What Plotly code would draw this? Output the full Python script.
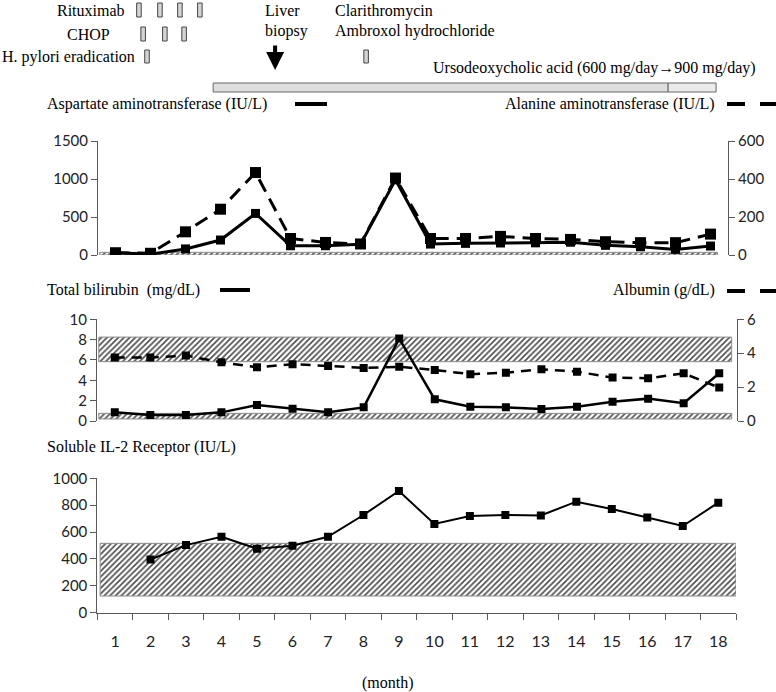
import plotly.graph_objects as go

# ---------------- data ----------------
months = list(range(1, 19))
month_labels = [str(m) for m in months]

ast = [30, 10, 80, 197, 547, 122, 122, 140, 990, 144, 153, 158, 160, 168, 127, 109, 74, 118]
alt = [12, 9, 122, 241, 434, 87, 66, 58, 405, 87, 87, 98, 87, 82, 70, 65, 65, 110]

bilirubin = [0.85, 0.59, 0.59, 0.85, 1.57, 1.21, 0.85, 1.34, 8.1, 2.13, 1.41, 1.34, 1.18, 1.41, 1.9, 2.2, 1.74, 4.69]
albumin = [3.74, 3.74, 3.86, 3.46, 3.17, 3.35, 3.25, 3.13, 3.2, 3.01, 2.76, 2.85, 3.05, 2.91, 2.56, 2.52, 2.81, 1.97]

sil2r = [None, 396, 503, 565, 476, 498, 565, 727, 906, 660, 719, 727, 724, 826, 771, 709, 645, 819]

# normal ranges (hatched bands)
ast_normal = [0, 35]
albumin_normal = [3.5, 4.95]
bilirubin_normal = [0.2, 0.75]
sil2r_normal = [124, 516]

# treatment timeline (in months)
rituximab_months = [1.67, 2.27, 2.84, 3.41]
chop_months = [1.79, 2.41, 2.96]
hpylori_months = [1.9]
clarithro_months = [8.16]
liver_biopsy_month = 5.56
udca_start, udca_switch, udca_end = 3.79, 16.79, 18.16

# axis ranges
ast_range = [0, 1500]
alt_range = [0, 600]
bili_range = [0, 10]
alb_range = [0, 6]
sil_range = [0, 1000]

W, H = 776, 692
def px(x):
    return x / W
def py(y):
    return 1 - y / H

SERIF = "Liberation Serif"
SANS = "Lato"
AXC = "#595959"

fig = go.Figure()

def band(x0, x1, y0, y1, xa, ya):
    fig.add_trace(go.Scatter(
        x=[x0, x1, x1, x0, x0], y=[y0, y0, y1, y1, y0],
        mode="lines", fill="toself", fillcolor="white",
        fillpattern=dict(shape="/", fgcolor="#4a4a4a", bgcolor="white", size=4, solidity=0.4),
        line=dict(color="#8c8c8c", width=1),
        xaxis=xa, yaxis=ya, hoverinfo="skip", showlegend=False))

# ---- top panel ----
band(0.55, 18.2, ast_normal[0], ast_normal[1], "x", "y")
fig.add_trace(go.Scatter(x=months, y=ast, mode="lines+markers", xaxis="x", yaxis="y",
                         line=dict(color="black", width=3),
                         marker=dict(symbol="square", size=9, color="black"),
                         name="Aspartate aminotransferase (IU/L)", showlegend=False))
fig.add_trace(go.Scatter(x=months, y=alt, mode="lines+markers", xaxis="x", yaxis="y2",
                         line=dict(color="black", width=3, dash="14px,8px"),
                         marker=dict(symbol="square", size=11, color="black"),
                         name="Alanine aminotransferase (IU/L)", showlegend=False))

# ---- middle panel ----
ratio = (bili_range[1] - bili_range[0]) / (alb_range[1] - alb_range[0])
band(0.55, 18.35, albumin_normal[0] * ratio, albumin_normal[1] * ratio, "x2", "y3")
band(0.55, 18.35, bilirubin_normal[0], bilirubin_normal[1], "x2", "y3")
fig.add_trace(go.Scatter(x=months, y=bilirubin, mode="lines+markers", xaxis="x2", yaxis="y3",
                         line=dict(color="black", width=2.5),
                         marker=dict(symbol="square", size=8, color="black"),
                         name="Total bilirubin (mg/dL)", showlegend=False))
fig.add_trace(go.Scatter(x=months, y=albumin, mode="lines+markers", xaxis="x2", yaxis="y4",
                         line=dict(color="black", width=2.5, dash="10px,7px"),
                         marker=dict(symbol="square", size=8, color="black"),
                         name="Albumin (g/dL)", showlegend=False))

# ---- bottom panel ----
band(0.58, 18.5, sil2r_normal[0], sil2r_normal[1], "x3", "y5")
fig.add_trace(go.Scatter(x=months, y=sil2r, mode="lines+markers", xaxis="x3", yaxis="y5",
                         line=dict(color="black", width=2),
                         marker=dict(symbol="square", size=8, color="black"),
                         name="Soluble IL-2 Receptor (IU/L)", showlegend=False))

tickfont = dict(family=SANS, size=15, color="#222")
yax_common = dict(showgrid=False, zeroline=False, showline=True, linecolor=AXC, linewidth=1,
                  ticks="outside", ticklen=6, tickcolor=AXC, tickfont=tickfont, automargin=False)
xax_hidden = dict(range=[0.5, 18.5], showgrid=False, zeroline=False, showline=False,
                  showticklabels=False, ticks="", automargin=False)

fig.update_layout(
    template="none",
    width=W, height=H, autosize=False, margin=dict(l=0, r=0, t=0, b=0, pad=0),
    paper_bgcolor="white", plot_bgcolor="white", showlegend=False,
    xaxis=dict(domain=[98 / W, 728 / W], anchor="y", **xax_hidden),
    yaxis=dict(domain=[py(255), py(141)], range=ast_range, tickvals=[0, 500, 1000, 1500], anchor="x", **yax_common),
    yaxis2=dict(overlaying="y", side="right", anchor="x", range=alt_range, tickvals=[0, 200, 400, 600], **yax_common),
    xaxis2=dict(domain=[97 / W, 737 / W], anchor="y3", **xax_hidden),
    yaxis3=dict(domain=[py(421), py(319.3)], range=bili_range, dtick=2, anchor="x2", **yax_common),
    yaxis4=dict(overlaying="y3", side="right", anchor="x2", range=alb_range, dtick=2, **yax_common),
    xaxis3=dict(domain=[97.3 / W, 736 / W], anchor="y5", range=[0.5, 18.5], showgrid=False, zeroline=False,
                showline=True, linecolor=AXC, linewidth=1, tickvals=months, ticktext=month_labels,
                ticks="", tickfont=dict(family=SANS, size=16, color="#222"), ticklabelstandoff=14,
                automargin=False,
                minor=dict(tickvals=[m + 0.5 for m in [0] + months], ticks="outside", ticklen=6, tickcolor=AXC)),
    yaxis5=dict(domain=[py(612.7), py(478.3)], range=sil_range, dtick=200, anchor="x3", **yax_common),
)

shapes = []
annotations = []

def ann(text, x, y, xanchor="left", size=16):
    annotations.append(dict(text=text, x=px(x), y=py(y), xref="paper", yref="paper",
                            xanchor=xanchor, yanchor="middle", showarrow=False,
                            font=dict(family=SERIF, size=size, color="black")))

def box(m, y0, y1, w=0.13):
    shapes.append(dict(type="rect", xref="x", yref="paper", x0=m - w / 2, x1=m + w / 2,
                       y0=py(y1), y1=py(y0), fillcolor="#d4d4d4", line=dict(color="#444", width=1)))

for m in rituximab_months:
    box(m, 3, 17)
for m in chop_months:
    box(m, 27, 41)
for m in hpylori_months + clarithro_months:
    box(m, 50, 63)

# UDCA bar
shapes.append(dict(type="rect", xref="x", yref="paper", x0=udca_start, x1=udca_switch,
                   y0=py(92), y1=py(83), fillcolor="#dedede", line=dict(color="#666", width=1)))
shapes.append(dict(type="rect", xref="x", yref="paper", x0=udca_switch, x1=udca_end,
                   y0=py(92), y1=py(83), fillcolor="#ebebeb", line=dict(color="#666", width=1)))

# legend keys
shapes.append(dict(type="line", xref="paper", yref="paper", x0=px(295), x1=px(327), y0=py(104), y1=py(104),
                   line=dict(color="black", width=4)))
shapes.append(dict(type="line", xref="paper", yref="paper", x0=px(220), x1=px(250), y0=py(290), y1=py(290),
                   line=dict(color="black", width=4)))
for (a, b) in [(727, 745), (760, 778)]:
    shapes.append(dict(type="line", xref="paper", yref="paper", x0=px(a), x1=px(b), y0=py(104), y1=py(104),
                       line=dict(color="black", width=4)))
    shapes.append(dict(type="line", xref="paper", yref="paper", x0=px(a), x1=px(b), y0=py(291), y1=py(291),
                       line=dict(color="black", width=4)))

ann("Rituximab", 127, 11, "right")
ann("CHOP", 112, 34, "right")
ann("H. pylori eradication", 0, 57, "left")
ann("Liver", 263, 10, "left")
ann("biopsy", 263, 31, "left")
ann("Clarithromycin", 333, 11, "left")
ann("Ambroxol hydrochloride", 333, 31, "left")
ann("Ursodeoxycholic acid (600 mg/day\u2192900 mg/day)", 431, 68, "left")
ann("Aspartate aminotransferase (IU/L)", 45, 104, "left")
ann("Alanine aminotransferase (IU/L)", 503, 104, "left")
ann("Total bilirubin  (mg/dL)", 45, 290, "left")
ann("Albumin (g/dL)", 611, 290, "left")
ann("Soluble IL-2 Receptor (IU/L)", 45, 447, "left")
ann("(month)", 388, 683, "center")

# liver biopsy arrow
annotations.append(dict(x=liver_biopsy_month, y=py(70), xref="x", yref="paper", ax=0, ay=-26,
                        axref="pixel", ayref="pixel", showarrow=True, arrowhead=2, arrowsize=0.9,
                        arrowwidth=4, arrowcolor="black", text=""))

fig.update_layout(shapes=shapes, annotations=annotations)

fig.write_html("out.html", config={"displayModeBar": False},
               post_script="document.body.style.margin='0px';document.body.style.padding='0px';")
